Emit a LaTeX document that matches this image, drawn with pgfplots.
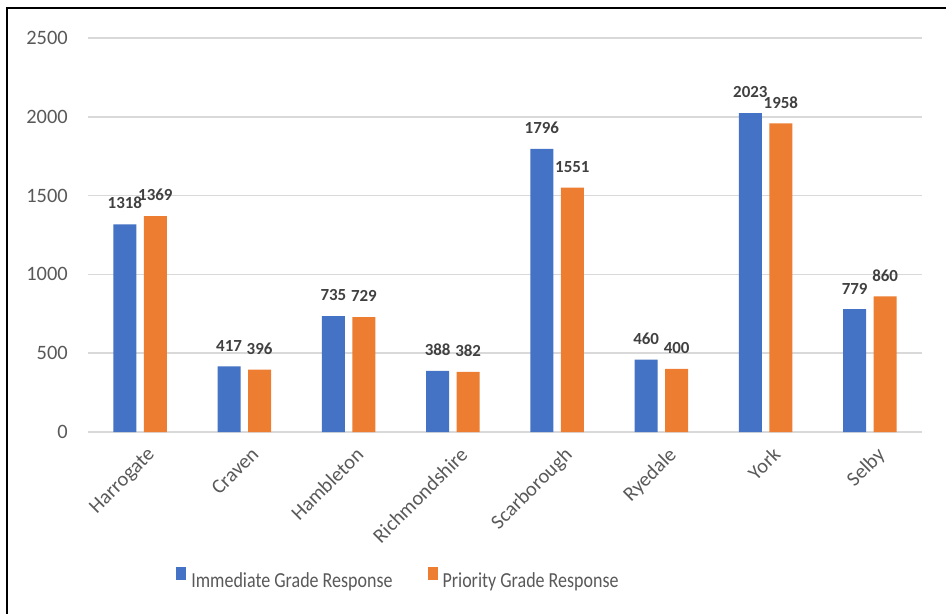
\documentclass[border=0pt]{standalone}
\usepackage{fontspec}
\setmainfont{Carlito}
\newfontfamily\legendfont{Carlito}[FakeStretch=0.84]
\usepackage{pgfplots}
\pgfplotsset{compat=1.18}
\definecolor{immblue}{HTML}{4472C4}
\definecolor{priorange}{HTML}{ED7D31}
\definecolor{gridgray}{HTML}{D9D9D9}
\definecolor{ticktext}{HTML}{595959}
\definecolor{labeltext}{HTML}{404040}

\begin{document}
\begin{tikzpicture}
% page = reference picture, 1px = 1bp, origin at the lower left of the plot area
\useasboundingbox (-88bp,-182bp) rectangle (858bp,432bp);
\begin{axis}[
  scale only axis,
  width=834bp, height=394bp,
  xmin=-0.5, xmax=7.5,
  ymin=0, ymax=2500,
  ytick={0,500,...,2500},
  xtick={0,...,7},
  xticklabels={Harrogate,Craven,Hambleton,Richmondshire,Scarborough,Ryedale,York,Selby},
  ymajorgrids,
  grid style={gridgray, line width=1.5bp},
  axis line style={draw=none},
  major tick length=0pt,
  ybar=7.5bp, bar width=23bp,
  /pgf/number format/assume math mode=true,
  /pgf/number format/1000 sep={},
  tick label style={font=\fontsize{20.5}{24}\selectfont, text=ticktext},
  yticklabel style={anchor=east, inner sep=0pt, xshift=-20bp},
  xticklabel style={xshift=6bp, yshift=-14bp, rotate=45, anchor=north east, inner sep=0pt},
  nodes near coords,
  every node near coord/.append style={font=\bfseries\fontsize{17}{20}\selectfont,
    text=labeltext, inner sep=0pt, anchor=south, yshift=15bp},
  legend style={at={(0.374,-0.373)}, anchor=center, draw=none, fill=none,
    legend columns=2, font=\legendfont\fontsize{21.5}{25}\selectfont, text=ticktext,
    nodes={inner xsep=5bp},
    /tikz/every even column/.append style={column sep=30bp}},
]
\addplot[fill=immblue, draw=none,
  legend image code/.code={\fill[immblue] (0bp,0bp) rectangle (10bp,13bp);}]
  coordinates {(0,1318) (1,417) (2,735) (3,388) (4,1796) (5,460) (6,2023) (7,779)};
\addlegendentry{Immediate Grade Response}
\addplot[fill=priorange, draw=none,
  legend image code/.code={\fill[priorange] (0bp,0bp) rectangle (10bp,13bp);}]
  coordinates {(0,1369) (1,396) (2,729) (3,382) (4,1551) (5,400) (6,1958) (7,860)};
\addlegendentry{Priority Grade Response}
\end{axis}
\draw[line width=2.2bp, black] (-81bp,-182bp) -- (-81bp,424bp) -- (858bp,424bp);
\end{tikzpicture}
\end{document}
